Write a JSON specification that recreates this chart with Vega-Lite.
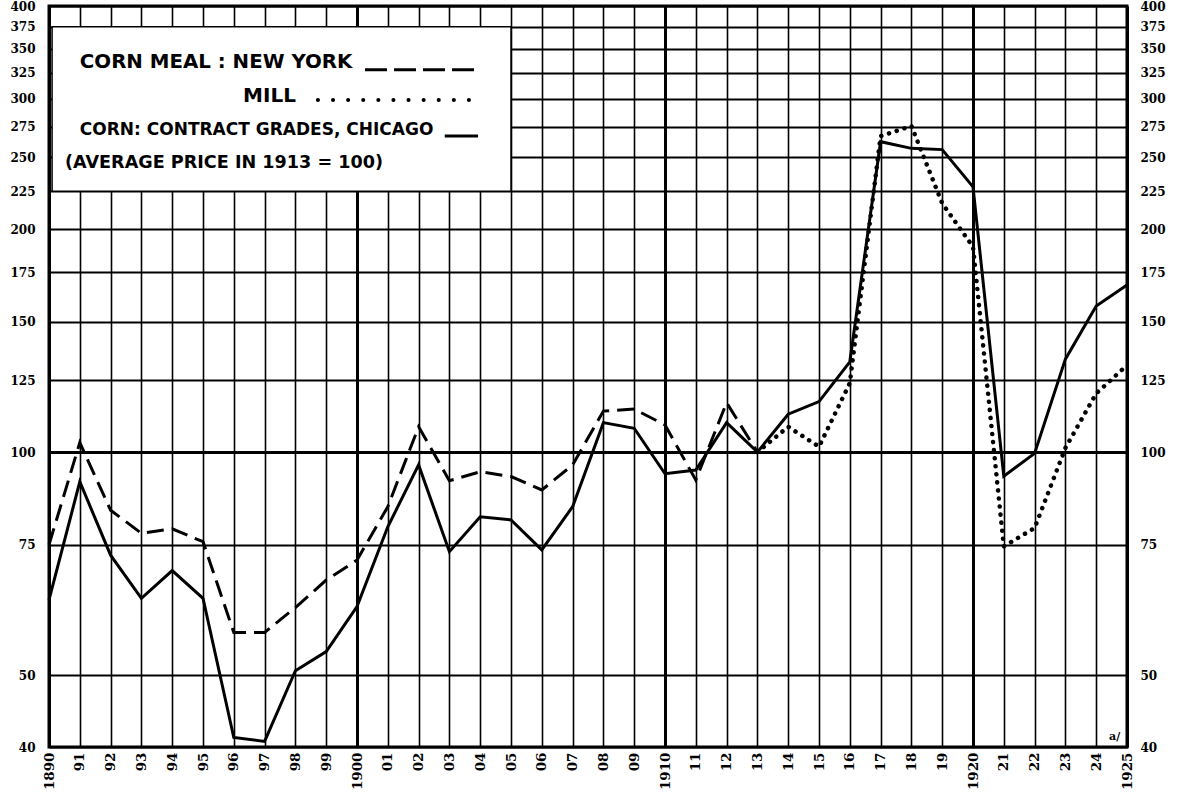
{
  "$schema": "https://vega.github.io/schema/vega-lite/v6.json",
  "width": 1078,
  "height": 741,
  "autosize": {"type": "none"},
  "padding": {"left": 49, "top": 6, "right": 50, "bottom": 46},
  "background": "white",
  "config": {
    "view": {"stroke": "black", "strokeWidth": 3},
    "axis": {"labelFont": "DejaVu Serif", "labelFontWeight": "bold", "labelFontSize": 12, "labelColor": "black", "ticks": false, "domain": false, "title": null}
  },
  "datasets": {
    "prices": [
      {"year": 1890, "series": "chicago", "value": 63.2},
      {"year": 1891, "series": "chicago", "value": 91.2},
      {"year": 1892, "series": "chicago", "value": 72.6},
      {"year": 1893, "series": "chicago", "value": 63.5},
      {"year": 1894, "series": "chicago", "value": 69.2},
      {"year": 1895, "series": "chicago", "value": 63.5},
      {"year": 1896, "series": "chicago", "value": 41.2},
      {"year": 1897, "series": "chicago", "value": 40.7},
      {"year": 1898, "series": "chicago", "value": 50.7},
      {"year": 1899, "series": "chicago", "value": 53.8},
      {"year": 1900, "series": "chicago", "value": 61.9},
      {"year": 1901, "series": "chicago", "value": 79.3},
      {"year": 1902, "series": "chicago", "value": 96.1},
      {"year": 1903, "series": "chicago", "value": 73.4},
      {"year": 1904, "series": "chicago", "value": 81.8},
      {"year": 1905, "series": "chicago", "value": 81.0},
      {"year": 1906, "series": "chicago", "value": 73.8},
      {"year": 1907, "series": "chicago", "value": 84.4},
      {"year": 1908, "series": "chicago", "value": 109.6},
      {"year": 1909, "series": "chicago", "value": 107.7},
      {"year": 1910, "series": "chicago", "value": 93.5},
      {"year": 1911, "series": "chicago", "value": 94.6},
      {"year": 1912, "series": "chicago", "value": 109.6},
      {"year": 1913, "series": "chicago", "value": 100},
      {"year": 1914, "series": "chicago", "value": 112.5},
      {"year": 1915, "series": "chicago", "value": 117},
      {"year": 1916, "series": "chicago", "value": 132.4},
      {"year": 1917, "series": "chicago", "value": 262.4},
      {"year": 1918, "series": "chicago", "value": 257},
      {"year": 1919, "series": "chicago", "value": 256},
      {"year": 1920, "series": "chicago", "value": 228},
      {"year": 1921, "series": "chicago", "value": 92.8},
      {"year": 1922, "series": "chicago", "value": 99.6},
      {"year": 1923, "series": "chicago", "value": 133.5},
      {"year": 1924, "series": "chicago", "value": 157.5},
      {"year": 1925, "series": "chicago", "value": 168.1},
      {"year": 1890, "series": "newyork", "value": 75},
      {"year": 1891, "series": "newyork", "value": 103},
      {"year": 1892, "series": "newyork", "value": 83.5},
      {"year": 1893, "series": "newyork", "value": 77.7},
      {"year": 1894, "series": "newyork", "value": 78.8},
      {"year": 1895, "series": "newyork", "value": 75.7},
      {"year": 1896, "series": "newyork", "value": 57.1},
      {"year": 1897, "series": "newyork", "value": 57.1},
      {"year": 1898, "series": "newyork", "value": 61.7},
      {"year": 1899, "series": "newyork", "value": 67.2},
      {"year": 1900, "series": "newyork", "value": 71.5},
      {"year": 1901, "series": "newyork", "value": 84.4},
      {"year": 1902, "series": "newyork", "value": 108.2},
      {"year": 1903, "series": "newyork", "value": 91.5},
      {"year": 1904, "series": "newyork", "value": 94.1},
      {"year": 1905, "series": "newyork", "value": 92.7},
      {"year": 1906, "series": "newyork", "value": 88.9},
      {"year": 1907, "series": "newyork", "value": 96.1},
      {"year": 1908, "series": "newyork", "value": 113.6},
      {"year": 1909, "series": "newyork", "value": 114.3},
      {"year": 1910, "series": "newyork", "value": 108.8},
      {"year": 1911, "series": "newyork", "value": 91.7},
      {"year": 1912, "series": "newyork", "value": 116.6},
      {"year": 1913, "series": "newyork", "value": 100},
      {"year": 1913, "series": "mill", "value": 100},
      {"year": 1914, "series": "mill", "value": 108.2},
      {"year": 1915, "series": "mill", "value": 101.7},
      {"year": 1916, "series": "mill", "value": 123.9},
      {"year": 1917, "series": "mill", "value": 267},
      {"year": 1918, "series": "mill", "value": 275.5},
      {"year": 1919, "series": "mill", "value": 216.6},
      {"year": 1920, "series": "mill", "value": 189.3},
      {"year": 1921, "series": "mill", "value": 74.6},
      {"year": 1922, "series": "mill", "value": 79},
      {"year": 1923, "series": "mill", "value": 101.3},
      {"year": 1924, "series": "mill", "value": 120},
      {"year": 1925, "series": "mill", "value": 131}
    ]
  },
  "layer": [
    {
      "data": {"name": "prices"},
      "transform": [{"filter": "datum.series == 'chicago'"}],
      "mark": {"type": "line", "stroke": "black", "strokeWidth": 3, "strokeJoin": "miter"},
      "encoding": {
        "x": {"field": "year", "type": "quantitative",
          "scale": {"domain": [1890, 1925], "nice": false, "zero": false},
          "axis": {"orient": "bottom", "values": [1890,1891,1892,1893,1894,1895,1896,1897,1898,1899,1900,1901,1902,1903,1904,1905,1906,1907,1908,1909,1910,1911,1912,1913,1914,1915,1916,1917,1918,1919,1920,1921,1922,1923,1924,1925],
            "format": "d", "labelAngle": -90, "labelPadding": 5, "labelFontSize": 13.5,
            "labelExpr": "datum.value % 10 == 0 || datum.value == 1925 ? datum.label : substring(datum.label, 2)",
            "grid": true, "gridColor": "black", "gridOpacity": 1,
            "gridWidth": {"condition": {"test": "datum.value % 10 == 0 || datum.value == 1925", "value": 3}, "value": 1.6}}},
        "y": {"field": "value", "type": "quantitative",
          "scale": {"type": "log", "domain": [40, 400], "nice": false, "zero": false},
          "axis": {"orient": "left", "values": [40,50,75,100,125,150,175,200,225,250,275,300,325,350,375,400],
            "format": "d", "labelPadding": 14,
            "grid": true, "gridColor": "black", "gridOpacity": 1,
            "gridWidth": {"condition": {"test": "datum.value == 100", "value": 3}, "value": 2}}}
      }
    },
    {
      "data": {"name": "prices"},
      "transform": [{"filter": "datum.series == 'newyork'"}],
      "mark": {"type": "line", "stroke": "black", "strokeWidth": 3, "strokeDash": [17, 8]},
      "encoding": {
        "x": {"field": "year", "type": "quantitative", "axis": null},
        "y": {"field": "value", "type": "quantitative",
          "axis": {"orient": "right", "values": [40,50,75,100,125,150,175,200,225,250,275,300,325,350,375,400],
            "format": "d", "labelPadding": 13, "grid": false}}
      }
    },
    {
      "data": {"name": "prices"},
      "transform": [{"filter": "datum.series == 'mill'"}],
      "mark": {"type": "line", "stroke": "black", "strokeWidth": 4.5, "strokeDash": [0.1, 8], "strokeCap": "round"},
      "encoding": {
        "x": {"field": "year", "type": "quantitative", "axis": null},
        "y": {"field": "value", "type": "quantitative", "axis": null}
      }
    },
    {
      "data": {"values": [{}]},
      "mark": {"type": "rect", "fill": "white", "stroke": "black", "strokeWidth": 1.5},
      "encoding": {
        "x": {"datum": 1890.1, "type": "quantitative", "axis": null},
        "x2": {"datum": 1905},
        "y": {"datum": 225, "type": "quantitative", "axis": null},
        "y2": {"datum": 375}
      }
    },
    {
      "data": {"values": [{}]},
      "mark": {"type": "text", "text": "CORN MEAL : NEW YORK", "font": "DejaVu Sans", "fontWeight": "bold", "fontSize": 19.8, "align": "left", "baseline": "middle"},
      "encoding": {"x": {"datum": 1891.0, "type": "quantitative", "axis": null}, "y": {"datum": 336, "type": "quantitative", "axis": null}}
    },
    {
      "data": {"values": [{}]},
      "mark": {"type": "text", "text": "MILL", "font": "DejaVu Sans", "fontWeight": "bold", "fontSize": 20, "align": "left", "baseline": "middle"},
      "encoding": {"x": {"datum": 1896.3, "type": "quantitative", "axis": null}, "y": {"datum": 302, "type": "quantitative", "axis": null}}
    },
    {
      "data": {"values": [{}]},
      "mark": {"type": "text", "text": "CORN: CONTRACT GRADES, CHICAGO", "font": "DejaVu Sans", "fontWeight": "bold", "fontSize": 17, "align": "left", "baseline": "middle"},
      "encoding": {"x": {"datum": 1891.0, "type": "quantitative", "axis": null}, "y": {"datum": 272, "type": "quantitative", "axis": null}}
    },
    {
      "data": {"values": [{}]},
      "mark": {"type": "text", "text": "(AVERAGE PRICE IN 1913 = 100)", "font": "DejaVu Sans", "fontWeight": "bold", "fontSize": 17.6, "align": "left", "baseline": "middle"},
      "encoding": {"x": {"datum": 1890.52, "type": "quantitative", "axis": null}, "y": {"datum": 245.6, "type": "quantitative", "axis": null}}
    },
    {
      "data": {"values": [{}]},
      "mark": {"type": "rule", "stroke": "black", "strokeWidth": 3, "strokeDash": [22, 7]},
      "encoding": {"x": {"datum": 1900.26, "type": "quantitative", "axis": null}, "x2": {"datum": 1903.93}, "y": {"datum": 328, "type": "quantitative", "axis": null}}
    },
    {
      "data": {"values": [{}]},
      "mark": {"type": "rule", "stroke": "black", "strokeWidth": 4, "strokeDash": [0.1, 15], "strokeCap": "round"},
      "encoding": {"x": {"datum": 1898.73, "type": "quantitative", "axis": null}, "x2": {"datum": 1903.93}, "y": {"datum": 298.6, "type": "quantitative", "axis": null}}
    },
    {
      "data": {"values": [{}]},
      "mark": {"type": "rule", "stroke": "black", "strokeWidth": 3},
      "encoding": {"x": {"datum": 1902.85, "type": "quantitative", "axis": null}, "x2": {"datum": 1903.93}, "y": {"datum": 267, "type": "quantitative", "axis": null}}
    },
    {
      "data": {"values": [{}]},
      "mark": {"type": "text", "text": "a/", "font": "DejaVu Serif", "fontWeight": "bold", "fontSize": 11, "align": "center", "baseline": "middle"},
      "encoding": {"x": {"datum": 1924.6, "type": "quantitative", "axis": null}, "y": {"datum": 41.3, "type": "quantitative", "axis": null}}
    }
  ],
  "resolve": {"axis": {"x": "independent", "y": "independent"}}
}
